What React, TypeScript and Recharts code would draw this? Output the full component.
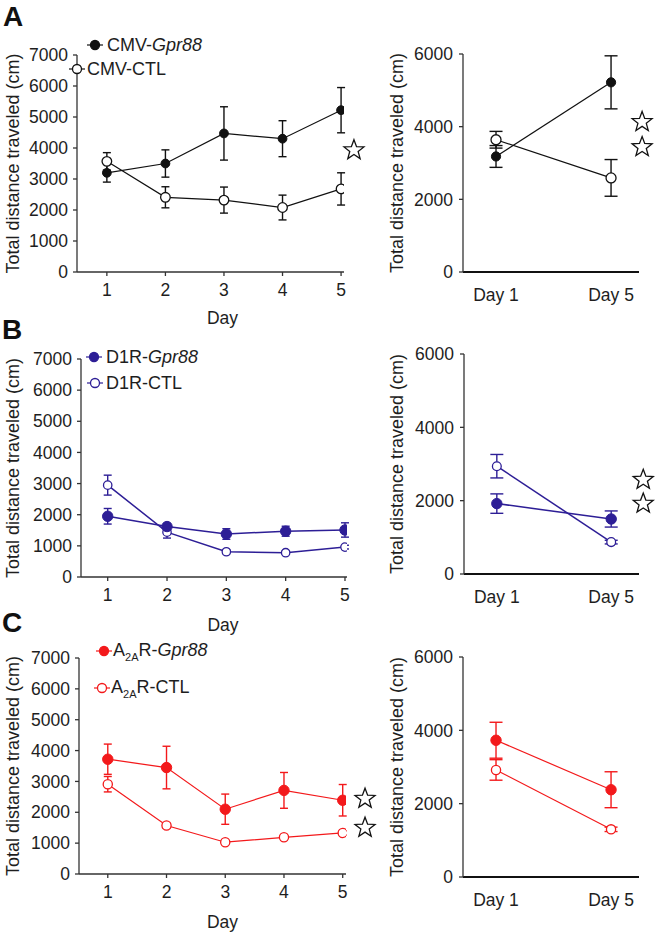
import React from 'react';
import { LineChart, Line, XAxis, YAxis, ErrorBar, ReferenceDot } from 'recharts';

// values (mean, SEM)
const days = [1, 2, 3, 4, 5];
const dayLabels = ['Day 1', 'Day 5'];

const cmvGpr88 = [3200, 3500, 4470, 4300, 5220];
const cmvGpr88Err = [300, 440, 860, 580, 730];
const cmvCtl = [3570, 2410, 2320, 2080, 2680];
const cmvCtlErr = [280, 340, 420, 400, 520];

const d1rGpr88 = [1950, 1620, 1380, 1470, 1510];
const d1rGpr88Err = [250, 100, 170, 160, 230];
const d1rCtl = [2950, 1440, 810, 780, 960];
const d1rCtlErr = [320, 190, 60, 50, 60];

const a2aGpr88 = [3720, 3450, 2100, 2710, 2390];
const a2aGpr88Err = [490, 690, 490, 580, 510];
const a2aCtl = [2910, 1570, 1030, 1190, 1330];
const a2aCtlErr = [250, 80, 60, 60, 70];

// day 1 vs day 5
const cmvGpr88D15 = [3180, 5220];
const cmvGpr88D15Err = [300, 730];
const cmvCtlD15 = [3640, 2590];
const cmvCtlD15Err = [230, 505];
const d1rGpr88D15 = [1920, 1500];
const d1rGpr88D15Err = [265, 220];
const d1rCtlD15 = [2940, 870];
const d1rCtlD15Err = [320, 50];
const a2aGpr88D15 = [3730, 2380];
const a2aGpr88D15Err = [490, 490];
const a2aCtlD15 = [2920, 1300];
const a2aCtlD15Err = [280, 60];

const leftYTicks = [0, 1000, 2000, 3000, 4000, 5000, 6000, 7000];
const rightYTicks = [0, 2000, 4000, 6000];

// significance stars (data units)
const starsA = [{ x: 5.22, y: 3930 }];
const starsA15 = [{ x: 2.27, y: 4130 }, { x: 2.27, y: 3440 }];
const starsB15 = [{ x: 2.28, y: 2570 }, { x: 2.28, y: 1920 }];
const starsC = [{ x: 5.38, y: 2440 }, { x: 5.38, y: 1500 }];

const TITLE_Y = 'Total distance traveled (cm)';
const FONT = '"Liberation Sans", Arial, Helvetica, sans-serif';
const AXIS = '#333';
const TEXT = '#1e1e1e';
const TICK_FS = 17.5;
const TITLE_FS = 18;

type Row = { day: number; gpr: number; gprErr: number; ctl: number; ctlErr: number };

const rows = (x: number[], g: number[], ge: number[], c: number[], ce: number[]): Row[] =>
    x.map((d, i) => ({ day: d, gpr: g[i], gprErr: ge[i], ctl: c[i], ctlErr: ce[i] }));

const Star = (props: any) => {
    const { cx, cy } = props;
    const R = 10.5;
    const r = 4.4;
    const pts: string[] = [];
    for (let k = 0; k < 10; k++) {
        const rad = k % 2 === 0 ? R : r;
        const a = -Math.PI / 2 + (k * Math.PI) / 5;
        pts.push(`${cx + rad * Math.cos(a)},${cy + rad * Math.sin(a)}`);
    }
    return <polygon points={pts.join(' ')} fill="#fff" stroke="#111" strokeWidth={1.3} />;
};

interface PanelCfg {
    left: number; top: number; width: number; height: number;
    margin: { top: number; right: number; bottom: number; left: number };
    yWidth: number;
    xDomain: [number, number];
    xTicks: number[];
    right?: boolean;
    yMax: number;
    yTicks: number[];
    data: Row[];
    color: string;
    lineWidth: number;
    rFilled: number;
    rOpen: number;
    cap: number;
    stars: { x: number; y: number }[];
    yTitleX: number;
    dayLabel?: { dx: number; dy: number };
    openOnTop: boolean;
}

function Panel({ c }: { c: PanelCfg }) {
    const gpr = (
        <Line key="gpr" dataKey="gpr" stroke={c.color} strokeWidth={c.lineWidth} isAnimationActive={false}
            dot={{ r: c.rFilled, fill: c.color, stroke: c.color, strokeWidth: 1 }} activeDot={false}>
            <ErrorBar dataKey="gprErr" direction="y" width={c.cap} stroke={c.color} strokeWidth={1.4} isAnimationActive={false} />
        </Line>
    );
    const ctl = (
        <Line key="ctl" dataKey="ctl" stroke={c.color} strokeWidth={c.lineWidth} isAnimationActive={false}
            dot={{ r: c.rOpen, fill: '#fff', stroke: c.color, strokeWidth: 1.3 }} activeDot={false}>
            <ErrorBar dataKey="ctlErr" direction="y" width={c.cap} stroke={c.color} strokeWidth={1.4} isAnimationActive={false} />
        </Line>
    );
    return (
        <div style={{ position: 'absolute', left: c.left, top: c.top }}>
            <LineChart width={c.width} height={c.height} data={c.data} margin={c.margin}>
                <XAxis
                    type="number"
                    dataKey="day"
                    domain={c.xDomain}
                    ticks={c.xTicks}
                    interval={0}
                    allowDataOverflow
                    height={30}
                    tickFormatter={(v: number) => (c.right ? dayLabels[v - 1] : String(v))}
                    axisLine={{ stroke: c.right ? '#111' : AXIS, strokeWidth: c.right ? 2 : 1.3 }}
                    tickLine={c.right ? false : { stroke: AXIS, strokeWidth: 1.3 }}
                    tickSize={4}
                    tickMargin={c.right ? 13 : 8}
                    tick={{ fontSize: TICK_FS, fill: TEXT }}
                    label={c.dayLabel ? {
                        content: (p: any) => {
                            const vb = p.viewBox;
                            const x = vb.x + vb.width / 2 + c.dayLabel!.dx;
                            const y = vb.y + c.dayLabel!.dy;
                            return <text x={x} y={y} textAnchor="middle" dominantBaseline="central" fontSize={TICK_FS} fill={TEXT}>Day</text>;
                        },
                    } : undefined}
                />
                <YAxis
                    type="number"
                    domain={[0, c.yMax]}
                    ticks={c.yTicks}
                    interval={0}
                    width={c.yWidth}
                    axisLine={{ stroke: AXIS, strokeWidth: 1.3 }}
                    tickLine={{ stroke: AXIS, strokeWidth: 1.3 }}
                    tickSize={4}
                    tickMargin={c.right ? 6 : 5}
                    tick={{ fontSize: TICK_FS, fill: TEXT }}
                    label={{
                        content: (p: any) => {
                            const vb = p.viewBox;
                            const x = vb.x + c.yTitleX;
                            const y = vb.y + vb.height / 2;
                            return (
                                <text x={x} y={y} transform={`rotate(-90, ${x}, ${y})`} textAnchor="middle"
                                    dominantBaseline="central" fontSize={TITLE_FS} fill={TEXT}>{TITLE_Y}</text>
                            );
                        },
                    }}
                />
                {c.openOnTop ? [gpr, ctl] : [ctl, gpr]}
                {c.stars.map((s, i) => (
                    <ReferenceDot key={i} x={s.x} y={s.y} ifOverflow="visible" shape={Star} />
                ))}
            </LineChart>
        </div>
    );
}

function LegendRow({ x, y, color, filled, gap, children }: any) {
    return (
        <div style={{
            position: 'absolute', left: x - 9, top: y - 11, height: 22, display: 'flex',
            alignItems: 'center', whiteSpace: 'nowrap', fontSize: 18, color: TEXT,
        }}>
            <svg width={18} height={22} style={{ display: 'block' }}>
                <line x1={1} y1={11} x2={17} y2={11} stroke={color} strokeWidth={1.2} />
                <circle cx={9} cy={11} r={4.5} fill={filled ? color : '#fff'} stroke={color} strokeWidth={1.3} />
            </svg>
            <span style={{ marginLeft: gap }}>{children}</span>
        </div>
    );
}

const Letter = ({ x, y, t }: { x: number; y: number; t: string }) => (
    <div style={{ position: 'absolute', left: x, top: y, fontSize: 28, lineHeight: '28px', fontWeight: 'bold', color: '#111' }}>{t}</div>
);

const BLACK = '#111';
const NAVY = '#2d1e96';
const RED = '#f3191b';

export default function App() {
    const panels: PanelCfg[] = [
        {
            left: 0, top: 0, width: 380, height: 330, margin: { top: 55, right: 36, bottom: 28, left: 0 },
            yWidth: 77, xDomain: [0.49, 5.05], xTicks: days, yMax: 7000, yTicks: leftYTicks,
            data: rows(days, cmvGpr88, cmvGpr88Err, cmvCtl, cmvCtlErr), color: BLACK, lineWidth: 1.2,
            rFilled: 4.4, rOpen: 4.8, cap: 4, stars: starsA, yTitleX: 13, dayLabel: { dx: 12, dy: 46 }, openOnTop: true,
        },
        {
            left: 380, top: 0, width: 276, height: 330, margin: { top: 54, right: 17, bottom: 28, left: 0 },
            yWidth: 83, xDomain: [0.713, 2.243], xTicks: [1, 2], right: true, yMax: 6000, yTicks: rightYTicks,
            data: rows([1, 2], cmvGpr88D15, cmvGpr88D15Err, cmvCtlD15, cmvCtlD15Err), color: BLACK, lineWidth: 1.2,
            rFilled: 4.6, rOpen: 5, cap: 6.5, stars: starsA15, yTitleX: 17, openOnTop: true,
        },
        {
            left: 0, top: 300, width: 380, height: 340, margin: { top: 59, right: 33, bottom: 33, left: 0 },
            yWidth: 81, xDomain: [0.55, 5.034], xTicks: days, yMax: 7000, yTicks: leftYTicks,
            data: rows(days, d1rGpr88, d1rGpr88Err, d1rCtl, d1rCtlErr), color: NAVY, lineWidth: 1.5,
            rFilled: 5.2, rOpen: 4.2, cap: 4, stars: [], yTitleX: 13, dayLabel: { dx: 9, dy: 48 }, openOnTop: false,
        },
        {
            left: 380, top: 300, width: 276, height: 340, margin: { top: 54, right: 17, bottom: 36, left: 0 },
            yWidth: 84, xDomain: [0.713, 2.243], xTicks: [1, 2], right: true, yMax: 6000, yTicks: rightYTicks,
            data: rows([1, 2], d1rGpr88D15, d1rGpr88D15Err, d1rCtlD15, d1rCtlD15Err), color: NAVY, lineWidth: 1.5,
            rFilled: 5.2, rOpen: 4.4, cap: 6.5, stars: starsB15, yTitleX: 17, openOnTop: true,
        },
        {
            left: 0, top: 600, width: 380, height: 333, margin: { top: 58, right: 34, bottom: 29, left: 0 },
            yWidth: 79, xDomain: [0.51, 5.056], xTicks: days, yMax: 7000, yTicks: leftYTicks,
            data: rows(days, a2aGpr88, a2aGpr88Err, a2aCtl, a2aCtlErr), color: RED, lineWidth: 1.2,
            rFilled: 5.2, rOpen: 4.6, cap: 4, stars: starsC, yTitleX: 13, dayLabel: { dx: 10, dy: 48 }, openOnTop: false,
        },
        {
            left: 380, top: 600, width: 276, height: 333, margin: { top: 57, right: 17, bottom: 26, left: 0 },
            yWidth: 83, xDomain: [0.713, 2.243], xTicks: [1, 2], right: true, yMax: 6000, yTicks: rightYTicks,
            data: rows([1, 2], a2aGpr88D15, a2aGpr88D15Err, a2aCtlD15, a2aCtlD15Err), color: RED, lineWidth: 1.2,
            rFilled: 5.2, rOpen: 4.6, cap: 6.5, stars: [], yTitleX: 17, openOnTop: false,
        },
    ];

    return (
        <div style={{ position: 'absolute', left: 0, top: 0, width: 656, height: 933, background: '#fff', fontFamily: FONT, overflow: 'hidden' }}>
            {panels.map((p, i) => <Panel key={i} c={p} />)}

            <Letter x={3} y={3} t="A" />
            <Letter x={2} y={316} t="B" />
            <Letter x={2} y={609} t="C" />

            <LegendRow x={95} y={45} color={BLACK} filled gap={3}>CMV-<i>Gpr88</i></LegendRow>
            <LegendRow x={77} y={69} color={BLACK} filled={false} gap={1}>CMV-CTL</LegendRow>

            <LegendRow x={94} y={357} color={NAVY} filled gap={3}>D1R-<i>Gpr88</i></LegendRow>
            <LegendRow x={95} y={383} color={NAVY} filled={false} gap={2}>D1R-CTL</LegendRow>

            <LegendRow x={104} y={651} color={RED} filled gap={0}>A<sub style={{ fontSize: 11 }}>2A</sub>R-<i>Gpr88</i></LegendRow>
            <LegendRow x={102} y={688} color={RED} filled={false} gap={0}>A<sub style={{ fontSize: 11 }}>2A</sub>R-CTL</LegendRow>
        </div>
    );
}
